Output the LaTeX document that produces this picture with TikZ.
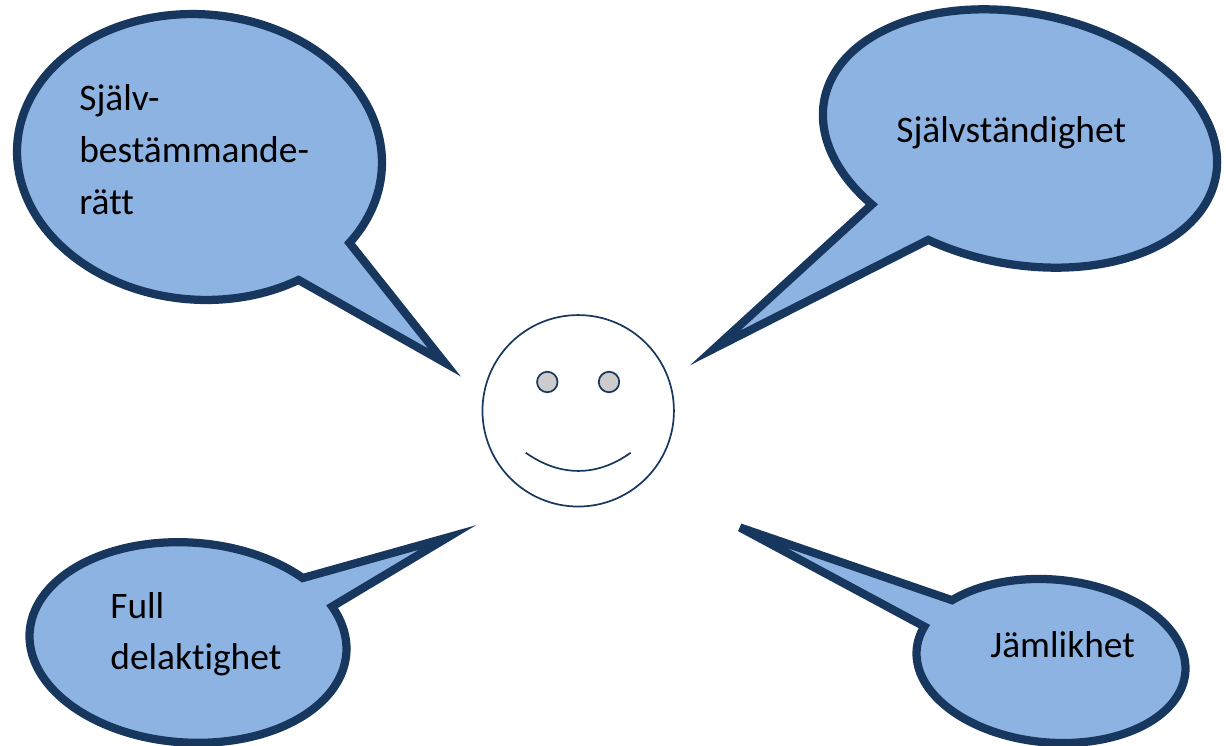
\documentclass[tikz,border=0pt]{standalone}
\usepackage{fontspec}
\setmainfont{Carlito}[Ligatures=NoCommon]
\definecolor{bubblefill}{HTML}{8DB3E2}
\definecolor{bubbleline}{HTML}{17375E}
\definecolor{facegrey}{HTML}{CCCCCC}
\tikzset{
  bubble/.style={draw=bubbleline,fill=bubblefill,line width=0.165cm,miter limit=10},
  faceline/.style={draw=bubbleline,line width=0.034cm},
  eye/.style={faceline,fill=facegrey,circle,minimum size=0.41cm,inner sep=0pt},
  label/.style={font=\fontsize{21.3pt}{30pt}\selectfont,text=black,inner sep=0pt,anchor=base west,align=left}
}
% centre x, centre y, semi-axis a, semi-axis b, tilt, start angle, end angle, tip of the callout
\newcommand{\callout}[8]{%
  \draw[bubble] plot[domain=#6:#7,samples=240]
    ({#1+#3*cos(\x)*cos(#5)-#4*sin(\x)*sin(#5)},{#2+#3*cos(\x)*sin(#5)+#4*sin(\x)*cos(#5)})
    -- #8 -- cycle;}
\begin{document}
\begin{tikzpicture}[x=0.02cm,y=-0.02cm]
\useasboundingbox (0,0) rectangle (1226,746);
% bubbles
\callout{199.5}{157}{182.7}{142.7}{4.4}{53.7}{391.3}{(444.5,362.5)}
\callout{1020}{138.5}{199.5}{125.5}{11.4}{131.5}{470.5}{(715,348)}
\callout{188}{642.5}{158.7}{100}{3.8}{-27}{314}{(447.5,537.5)}
\callout{1051}{661}{134.8}{81.5}{5}{219.6}{556.6}{(740,527.5)}
% face
\node[faceline,circle,minimum size=3.83cm,inner sep=0pt] (face) at (578.2,410.8) {};
\node[eye] (eyeL) at (547.3,382) {};
\node[eye] (eyeR) at (609,382) {};
\draw[faceline] (525.7,452.7) .. controls (560,477) and (597,477) .. (630.7,452.7);
% labels
\node[label] (t1a) at (79,110.5) {Själv-};
\node[label] (t1b) at (79,162.5) {bestämmande-};
\node[label] (t1c) at (79,214.5) {rätt};
\node[label] (t2) at (896,143) {Självständighet};
\node[label] (t3a) at (110,618) {Full};
\node[label] (t3b) at (110,669.5) {delaktighet};
\node[label] (t4) at (990,657.5) {Jämlikhet};
\end{tikzpicture}
\end{document}
